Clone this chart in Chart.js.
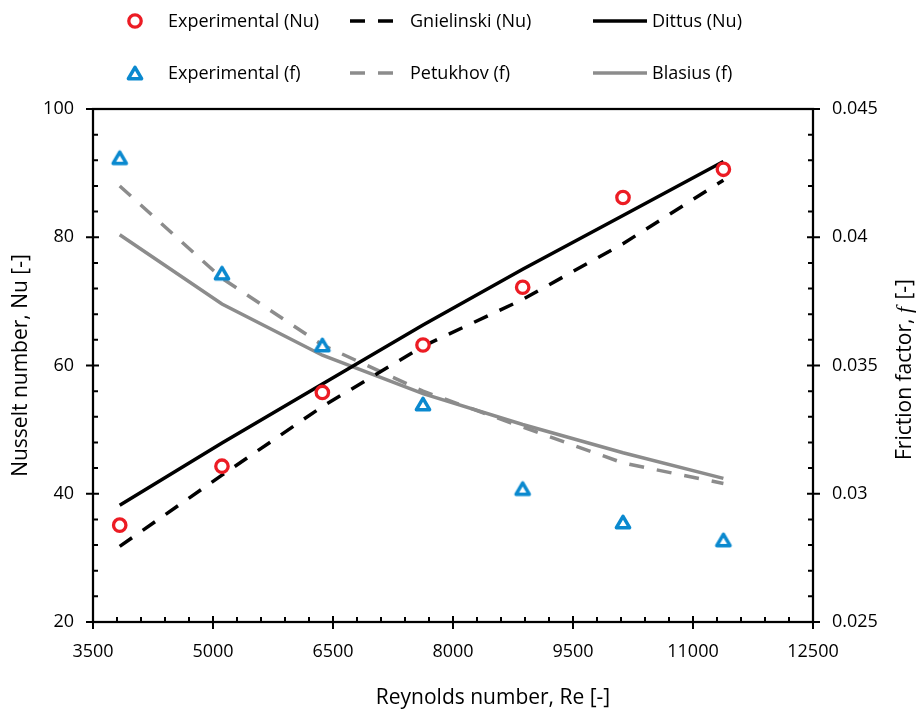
<!DOCTYPE html>
<html><head><meta charset="utf-8">
<script src="https://cdn.jsdelivr.net/npm/chart.js@4.4.1/dist/chart.umd.min.js"></script>
<style>html,body{margin:0;padding:0;background:#fff}#wrap{width:921px;height:712px;position:relative}</style>
</head><body><div id="wrap"><canvas id="c" width="921" height="712"></canvas></div>
<script>
// ---- data ----
const reynolds = [3834, 5112, 6367, 7625, 8871, 10125, 11380];
const nuExperimental = [35.1, 44.3, 55.8, 63.2, 72.2, 86.2, 90.6];
const nuGnielinski = [31.8, 42.9, 53.6, 63.0, 70.3, 79.0, 88.9];
const nuDittus = [38.2, 47.9, 57.1, 66.3, 75.0, 83.4, 91.8];
const fExperimental = [0.0431, 0.0386, 0.0358, 0.0335, 0.0302, 0.0289, 0.0282];
const fPetukhov = [0.0420, 0.0384, 0.0358, 0.0340, 0.0326, 0.0312, 0.0304];
const fBlasius = [0.0401, 0.0374, 0.0354, 0.0339, 0.0327, 0.0316, 0.0306];
const xTicks = [3500, 5000, 6500, 8000, 9500, 11000, 12500];
const xTickLabels = ['3500', '5000', '6500', '8000', '9500', '11000', '12500'];
const nuTicks = [20, 40, 60, 80, 100];
const nuTickLabels = ['20', '40', '60', '80', '100'];
const fTicks = [0.025, 0.03, 0.035, 0.04, 0.045];
const fTickLabels = ['0.025', '0.03', '0.035', '0.04', '0.045'];
const seriesLabels = ['Experimental (Nu)', 'Gnielinski (Nu)', 'Dittus (Nu)', 'Experimental (f)', 'Petukhov (f)', 'Blasius (f)'];

const RED = '#EC1C24', BLUE = '#0A89CF', GREY = '#8C8C8C', BLACK = '#000000';
const FONT = "'Open Sans'";
const DASH = [15, 13];

function pts(ys) { return reynolds.map((r, i) => ({ x: r, y: ys[i] })); }

// triangle marker centred on its bounding box
function makeTriangle() {
  const c = document.createElement('canvas');
  c.width = 24; c.height = 24;
  const g = c.getContext('2d');
  const side = 13.2, h = side * Math.sqrt(3) / 2;
  g.lineWidth = 3.5; g.lineJoin = 'round';
  g.strokeStyle = BLUE; g.fillStyle = '#fff';
  g.beginPath();
  g.moveTo(12, 12 - h / 2);
  g.lineTo(12 + side / 2, 12 + h / 2);
  g.lineTo(12 - side / 2, 12 + h / 2);
  g.closePath();
  g.fill(); g.stroke();
  return c;
}
const triImg = makeTriangle();

const datasets = [
  { label: seriesLabels[0], data: pts(nuExperimental), yAxisID: 'y', showLine: false,
    pointStyle: 'circle', pointRadius: 6.2, pointBorderWidth: 3.3, pointBorderColor: RED, pointBackgroundColor: '#fff',
    borderColor: RED, order: 0 },
  { label: seriesLabels[1], data: pts(nuGnielinski), yAxisID: 'y', borderColor: BLACK, borderWidth: 3.5,
    borderDash: DASH, pointRadius: 0, order: 2 },
  { label: seriesLabels[2], data: pts(nuDittus), yAxisID: 'y', borderColor: BLACK, borderWidth: 3.5,
    pointRadius: 0, order: 2 },
  { label: seriesLabels[3], data: pts(fExperimental), yAxisID: 'y1', showLine: false,
    pointStyle: triImg, pointRadius: 8, borderColor: BLUE, order: 0 },
  { label: seriesLabels[4], data: pts(fPetukhov), yAxisID: 'y1', borderColor: GREY, borderWidth: 3.5,
    borderDash: DASH, pointRadius: 0, order: 3 },
  { label: seriesLabels[5], data: pts(fBlasius), yAxisID: 'y1', borderColor: GREY, borderWidth: 3.5,
    pointRadius: 0, order: 3 }
];

const tickFont = { family: FONT, size: 18 };

const decorPlugin = {
  id: 'decor',
  afterDraw(chart) {
    const { ctx, chartArea: a, scales } = chart;
    const x = scales.x, y = scales.y, y1 = scales.y1;
    ctx.save();
    // frame
    ctx.strokeStyle = '#000';
    ctx.lineWidth = 2.25;
    ctx.strokeRect(a.left, a.top, a.right - a.left, a.bottom - a.top);
    // tick marks
    ctx.lineWidth = 2;
    ctx.beginPath();
    for (let k = 0; k <= 30; k++) {
      const v = 3500 + k * 300;
      const px = x.getPixelForValue(v);
      const major = k % 5 === 0;
      ctx.moveTo(px, a.bottom + (major ? 7 : 0));
      ctx.lineTo(px, a.bottom - (major ? 6 : 5));
    }
    for (let k = 0; k <= 20; k++) {
      const py = y.getPixelForValue(20 + k * 4);
      const major = k % 5 === 0;
      ctx.moveTo(a.left - (major ? 7 : 0), py);
      ctx.lineTo(a.left + (major ? 6 : 5), py);
      const py1 = y1.getPixelForValue(0.025 + k * 0.001);
      ctx.moveTo(a.right + (major ? 7 : 0), py1);
      ctx.lineTo(a.right - (major ? 6 : 5), py1);
    }
    ctx.stroke();

    // axis titles
    ctx.fillStyle = '#000';
    ctx.textBaseline = 'middle';
    ctx.textAlign = 'center';
    ctx.font = `21px ${FONT}`;
    ctx.fillText('Reynolds number, Re [-]', 493, 698);
    const midY = (a.top + a.bottom) / 2;
    ctx.save();
    ctx.translate(21, midY);
    ctx.rotate(-Math.PI / 2);
    ctx.fillText('Nusselt number, Nu [-]', 0, 0);
    ctx.restore();
    // right title with italic serif f
    ctx.save();
    ctx.translate(905, midY + 4);
    ctx.rotate(-Math.PI / 2);
    const p1 = 'Friction factor, ', p2 = 'f', p3 = ' [-]';
    const fItal = `italic 22px 'Liberation Serif'`, fNorm = `21px ${FONT}`;
    ctx.font = fNorm; const w1 = ctx.measureText(p1).width, w3 = ctx.measureText(p3).width;
    ctx.font = fItal; const w2 = ctx.measureText(p2).width + 2;
    let sx = -(w1 + w2 + w3) / 2;
    ctx.textAlign = 'left';
    ctx.font = fNorm; ctx.fillText(p1, sx, 0); sx += w1;
    ctx.font = fItal; ctx.fillText(p2, sx, 0); sx += w2;
    ctx.font = fNorm; ctx.fillText(p3, sx, 0);
    ctx.restore();

    // legend
    const ds = chart.data.datasets;
    const rows = [21, 73];
    const cols = [{ m: 135, t: 168 }, { m0: 350, m1: 393, t: 410 }, { m0: 593, m1: 647, t: 652 }];
    ctx.font = `18px ${FONT}`;
    ctx.textAlign = 'left';
    ds.forEach((d, i) => {
      const r = rows[Math.floor(i / 3)], c = cols[i % 3];
      if (d.showLine === false) {
        if (d.pointStyle === 'circle') {
          ctx.beginPath();
          ctx.arc(c.m, r, d.pointRadius, 0, Math.PI * 2);
          ctx.fillStyle = '#fff'; ctx.fill();
          ctx.lineWidth = d.pointBorderWidth; ctx.strokeStyle = d.pointBorderColor; ctx.stroke();
        } else {
          ctx.drawImage(d.pointStyle, c.m - d.pointStyle.width / 2, r - d.pointStyle.height / 2);
        }
      } else {
        ctx.beginPath();
        ctx.setLineDash(d.borderDash || []);
        ctx.lineWidth = d.borderWidth; ctx.strokeStyle = d.borderColor;
        ctx.moveTo(c.m0, r); ctx.lineTo(c.m1, r); ctx.stroke();
        ctx.setLineDash([]);
      }
      ctx.fillStyle = '#000';
      ctx.fillText(d.label, c.t, r + 1);
    });
    ctx.restore();
  }
};

new Chart(document.getElementById('c'), {
  type: 'line',
  data: { datasets },
  options: {
    responsive: false,
    animation: false,
    events: [],
    layout: { padding: { top: 109, left: 0, right: 0, bottom: 0 } },
    plugins: { legend: { display: false }, tooltip: { enabled: false } },
    elements: { line: { tension: 0, borderCapStyle: 'butt' } },
    scales: {
      x: {
        type: 'linear', position: 'bottom', min: 3500, max: 12500,
        afterBuildTicks: s => { s.ticks = xTicks.map(v => ({ value: v })); },
        afterFit: s => { s.height = 90; },
        grid: { display: false, drawTicks: false }, border: { display: false },
        ticks: { font: tickFont, color: '#000', padding: 19, maxRotation: 0, autoSkip: false,
          callback: (v, i) => xTickLabels[i] }
      },
      y: {
        type: 'linear', position: 'left', min: 20, max: 100,
        afterBuildTicks: s => { s.ticks = nuTicks.map(v => ({ value: v })); },
        afterFit: s => { s.width = 93; },
        grid: { display: false, drawTicks: false }, border: { display: false },
        ticks: { font: tickFont, color: '#000', padding: 19, callback: (v, i) => nuTickLabels[i] }
      },
      y1: {
        type: 'linear', position: 'right', min: 0.025, max: 0.045,
        afterBuildTicks: s => { s.ticks = fTicks.map(v => ({ value: v })); },
        afterFit: s => { s.width = 108; },
        grid: { display: false, drawTicks: false }, border: { display: false },
        ticks: { font: tickFont, color: '#000', padding: 19, callback: (v, i) => fTickLabels[i] }
      }
    }
  },
  plugins: [decorPlugin]
});
</script>
</body></html>
